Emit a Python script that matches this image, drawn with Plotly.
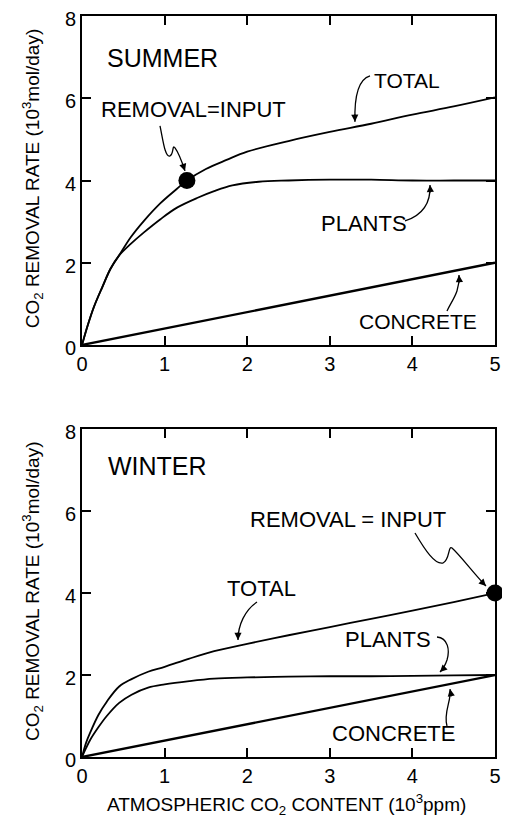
import plotly.graph_objects as go
from plotly.subplots import make_subplots
import math

# ---------------- data ----------------
summer_x_total = [0, 0.065, 0.145, 0.246, 0.347, 0.45, 0.59, 0.75, 0.95, 1.15, 1.27, 1.5, 1.75, 2.0, 2.5, 3.0, 3.5, 4.0, 4.5, 5.0]
summer_total = [0, 0.45, 0.93, 1.41, 1.86, 2.18, 2.62, 3.02, 3.45, 3.8, 4.0, 4.28, 4.5, 4.7, 4.96, 5.18, 5.38, 5.6, 5.8, 6.02]
summer_x_plants = [0, 0.065, 0.145, 0.246, 0.347, 0.45, 0.59, 0.75, 0.95, 1.15, 1.4, 1.6, 1.82, 2.14, 2.5, 3.0, 3.5, 4.0, 4.5, 5.0]
summer_plants = [0, 0.45, 0.93, 1.41, 1.86, 2.18, 2.46, 2.74, 3.06, 3.34, 3.58, 3.74, 3.88, 3.97, 4.0, 4.02, 4.02, 4.0, 4.0, 4.0]
summer_x_concrete = [0, 5]
summer_concrete = [0, 2.0]
summer_eq = ([1.27], [4.0])

winter_x = [0, 0.05, 0.1, 0.2, 0.3, 0.45, 0.6, 0.8, 1.0, 1.3, 1.6, 2.0, 2.5, 3.0, 3.5, 4.0, 4.5, 5.0]
winter_total = [0, 0.35, 0.6, 1.03, 1.35, 1.72, 1.9, 2.08, 2.2, 2.4, 2.58, 2.76, 2.97, 3.17, 3.37, 3.57, 3.78, 4.0]
winter_plants = [0, 0.22, 0.42, 0.73, 1.0, 1.32, 1.52, 1.69, 1.77, 1.85, 1.91, 1.94, 1.96, 1.97, 1.97, 1.98, 1.99, 2.0]
winter_x_concrete = [0, 5]
winter_concrete = [0, 2.0]
winter_eq = ([5.0], [4.0])

x_ticks = [0, 1, 2, 3, 4, 5]
y_ticks = [0, 2, 4, 6, 8]

FONT = "Liberation Sans, Arial, sans-serif"

fig = make_subplots(rows=2, cols=1, vertical_spacing=0.1134)

def add_panel(row, xt, yt, xp, yp, xc, yc, eq):
    for xs, ys in ((xt, yt), (xp, yp)):
        fig.add_trace(go.Scatter(x=xs, y=ys, mode="lines",
                                 line=dict(color="black", width=1.8, shape="spline", smoothing=1.0),
                                 showlegend=False, hoverinfo="skip"), row=row, col=1)
    fig.add_trace(go.Scatter(x=xc, y=yc, mode="lines", line=dict(color="black", width=2.3),
                             showlegend=False, hoverinfo="skip"), row=row, col=1)
    fig.add_trace(go.Scatter(x=eq[0], y=eq[1], mode="markers", marker=dict(color="black", size=17),
                             cliponaxis=False, showlegend=False, hoverinfo="skip"), row=row, col=1)

add_panel(1, summer_x_total, summer_total, summer_x_plants, summer_plants, summer_x_concrete, summer_concrete, summer_eq)
add_panel(2, winter_x, winter_total, winter_x, winter_plants, winter_x_concrete, winter_concrete, winter_eq)

axis_common = dict(showline=True, linecolor="black", linewidth=2, mirror="ticks", ticks="inside",
                   ticklen=9, tickwidth=2, tickcolor="black", showgrid=False, zeroline=False,
                   automargin=False, ticklabeloverflow="allow",
                   tickfont=dict(family=FONT, size=20, color="black"))
for r in (1, 2):
    fig.update_xaxes(range=[0, 5], tickvals=x_ticks, ticktext=[str(v) for v in x_ticks], row=r, col=1, **axis_common)
    fig.update_yaxes(range=[0, 8], tickvals=y_ticks, ticktext=[str(v) for v in y_ticks], row=r, col=1,
                     ticklabelshift=3, **axis_common)

# page body has an 8px margin: figure is 502x811 so that it fits the 510x819 window
fig.update_layout(
    width=502, height=811, plot_bgcolor="white", paper_bgcolor="white",
    margin=dict(l=74, r=15, t=8, b=62, autoexpand=False),
    font=dict(family=FONT, color="black"),
)
fig.update_yaxes(domain=[0.556, 1.0], row=1, col=1)
fig.update_yaxes(domain=[0.0, 0.4426], row=2, col=1)

# screen-pixel -> data helpers for annotation geometry
X0, XS = 82.0, 82.6
PANEL = {1: (345.0, 41.1, "x", "y"), 2: (757.0, 41.0, "x2", "y2")}

def d(panel, px, py):
    y0, ys, _, _ = PANEL[panel]
    return (px - X0) / XS, (y0 - py) / ys

def text(panel, s, px_left, py_center, size=22):
    x, y = d(panel, px_left, py_center)
    _, _, xr, yr = PANEL[panel]
    fig.add_annotation(x=x, y=y, xref=xr, yref=yr, text=s, showarrow=False, xanchor="left", yanchor="middle",
                       font=dict(family=FONT, size=size, color="black"))

def curved_arrow(panel, pts):
    _, _, xr, yr = PANEL[panel]
    dp = [d(panel, *p) for p in pts]
    path = "M %.4f,%.4f" % dp[0]
    for i in range(1, len(dp), 3):
        path += " C %.4f,%.4f %.4f,%.4f %.4f,%.4f" % (dp[i] + dp[i + 1] + dp[i + 2])
    fig.add_shape(type="path", path=path, xref=xr, yref=yr, line=dict(color="black", width=1.3))
    ex, ey = pts[-1]
    cx, cy = pts[-2]
    L = math.hypot(cx - ex, cy - ey) or 1
    ax, ay = (cx - ex) / L * 9, (cy - ey) / L * 9
    hx, hy = d(panel, ex, ey)
    fig.add_annotation(x=hx, y=hy, xref=xr, yref=yr, text="", showarrow=True, ax=ax, ay=ay,
                       arrowhead=2, arrowsize=1.1, arrowwidth=1.3, arrowcolor="black", standoff=0)

# Summer labels
text(1, "SUMMER", 105, 58, 25)
text(1, "REMOVAL=INPUT", 99, 110, 22)
text(1, "TOTAL", 372, 81, 21)
text(1, "PLANTS", 319, 224, 22)
text(1, "CONCRETE", 357, 322, 21)
curved_arrow(1, [(160, 126), (163, 140), (165, 158), (170, 156), (174, 154), (172, 144), (175, 148),
                 (178, 152), (182, 162), (185, 171)])
curved_arrow(1, [(370, 76), (360, 79), (354, 92), (355, 122)])
curved_arrow(1, [(405, 221), (420, 216), (431, 205), (430, 185)])
curved_arrow(1, [(447, 311), (452, 300), (460, 292), (459, 275)])

# Winter labels
text(2, "WINTER", 106, 466, 25)
text(2, "REMOVAL = INPUT", 248, 519, 22)
text(2, "TOTAL", 225, 588, 22)
text(2, "PLANTS", 343, 639, 22)
text(2, "CONCRETE", 330, 733, 22)
curved_arrow(2, [(415, 533), (425, 550), (435, 565), (443, 563), (450, 560), (448, 545), (452, 548),
                 (460, 555), (475, 575), (486, 586)])
curved_arrow(2, [(257, 602), (245, 610), (238, 625), (238, 640)])
curved_arrow(2, [(437, 637), (448, 638), (450, 650), (447, 660), (445, 666), (442, 670), (440, 672)])
curved_arrow(2, [(447, 726), (443, 712), (452, 700), (450, 689)])

# Axis titles as annotations
ytitle = "CO<sub>2</sub> REMOVAL RATE (10<sup>3</sup>mol/day)"
for yc in (0.781, 0.224):
    fig.add_annotation(x=-0.121, y=yc, xref="paper", yref="paper", text=ytitle, textangle=-90,
                       showarrow=False, xanchor="center", yanchor="middle",
                       font=dict(family=FONT, size=19, color="black"))
fig.add_annotation(x=0.494, y=-0.064, xref="paper", yref="paper",
                   text="ATMOSPHERIC CO<sub>2</sub> CONTENT (10<sup>3</sup>ppm)", showarrow=False,
                   xanchor="center", yanchor="middle", font=dict(family=FONT, size=19, color="black"))

fig.write_html("out.html")
